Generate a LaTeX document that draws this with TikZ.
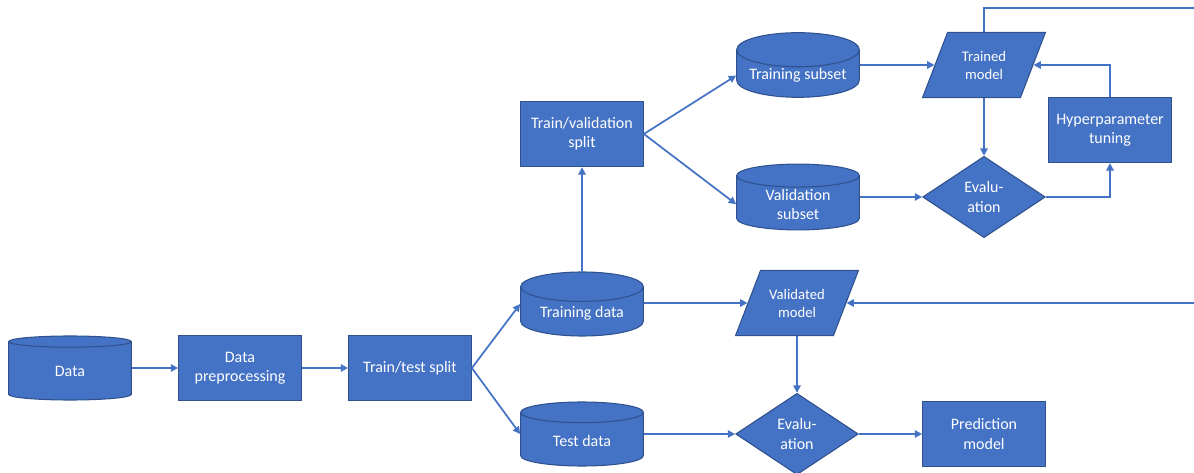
\documentclass[tikz,border=0pt]{standalone}
\usepackage{fontspec}
\setmainfont{Carlito}
\usetikzlibrary{shapes.geometric,arrows.meta}
\definecolor{boxblue}{HTML}{4472C4}
\definecolor{boxedge}{HTML}{2F528F}

\begin{document}
\begin{tikzpicture}[
    x=0.75pt, y=-0.75pt,
    every node/.style={draw=boxedge, line width=0.8pt, fill=boxblue, text=white, align=center, inner sep=1pt,
        font=\fontsize{12}{14.5}\selectfont},
    proc/.style={rectangle, minimum width=92pt, minimum height=49pt},
    db/.style={cylinder, shape border rotate=90, aspect=0.34, minimum width=92pt, minimum height=48pt, anchor=shape center},
    io/.style={trapezium, trapezium left angle=69, trapezium right angle=111, inner sep=0pt,
        text width=54.6pt, text height=49pt, text depth=0pt},
    iotext/.style={draw=none, fill=none, font=\fontsize{11}{13.5}\selectfont},
    dec/.style={diamond, minimum width=92pt, minimum height=61pt},
    line/.style={draw=boxblue, line width=1.3pt},
    flow/.style={line, -{Triangle[length=5.5pt,width=5.5pt]}}
]
\useasboundingbox (0,0) rectangle (1194,473);

% main pipeline
\node[db] (data) at (70,368) {Data};
\node[proc] (prep) at (240,368) {Data\\preprocessing};
\node[proc] (tts) at (410,368) {Train/test split};
\node[db] (train) at (582,304) {Training data};
\node[db] (test) at (582,434) {Test data};

% validation loop
\node[proc] (tvs) at (582,134) {Train/validation\\split};
\node[db] (sub) at (798,65) {Training subset};
\node[db] (val) at (798,197) {Validation\\subset};
\node[io, label={[iotext]center:Trained\\model}] (tm) at (984,65) {};
\node[dec] (ev1) at (984,197) {Evalu-\\ation};
\node[proc] (hyp) at (1110,130) {Hyperparameter\\tuning};

% final model
\node[io, label={[iotext]center:Validated\\model}] (vm) at (797,303) {};
\node[dec] (ev2) at (797,434) {Evalu-\\ation};
\node[proc] (pred) at (984,434) {Prediction\\model};

\coordinate (out1) at (1194,8);
\coordinate (out2) at (1194,303);

\draw[flow] (data.east |- prep) -- (prep);
\draw[flow] (prep) -- (tts);
\draw[flow] (tts.east) -- (train.shape center -| train.west);
\draw[flow] (tts.east) -- (test.shape center -| test.west);
\draw[flow] (train) -- (tvs);
\draw[flow] (train.east |- vm) -- (vm);
\draw[flow] (tvs.east) -- (sub.west);
\draw[flow] (tvs.east) -- (val.west);
\draw[flow] (sub.east |- tm) -- (tm);
\draw[flow] (val.east |- ev1) -- (ev1);
\draw[flow] (tm) -- (ev1);
\draw[flow] (ev1) -| (hyp);
\draw[flow] (hyp) |- (tm);
\draw[line] (tm) |- (out1);
\draw[flow] (out2) -- (vm);
\draw[flow] (vm) -- (ev2);
\draw[flow] (test.east |- ev2) -- (ev2);
\draw[flow] (ev2) -- (pred);
\end{tikzpicture}
\end{document}
